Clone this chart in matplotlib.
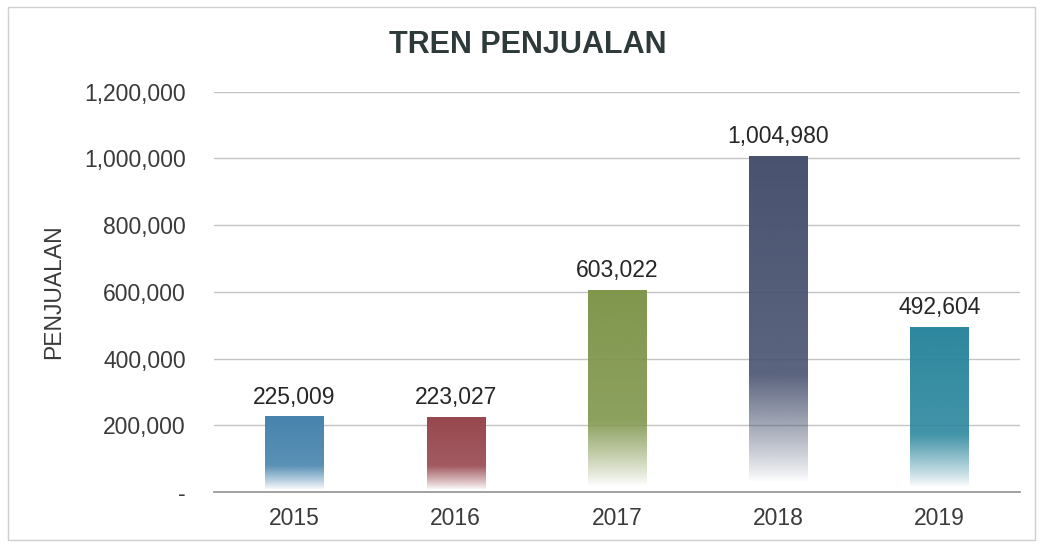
import numpy as np
import matplotlib.pyplot as plt
from matplotlib.colors import to_rgb
from matplotlib.patches import Rectangle
from matplotlib.ticker import FuncFormatter

years = ['2015', '2016', '2017', '2018', '2019']
sales = [225009, 223027, 603022, 1004980, 492604]
colors = ['#4683ad', '#97474e', '#80964c', '#48526f', '#2c879e']

plt.rcParams['font.family'] = ['Liberation Sans', 'DejaVu Sans']


def gradient_bar(ax, x, height, width, color):
    # dark at the top, lightening downwards and fading to white at the base
    n = 300
    t = np.linspace(0, 1, n)[:, None]          # 0 = bottom, 1 = top
    fade = np.clip((t - 0.03) / 0.32, 0, 1) ** 0.85
    alpha = fade * (0.84 + 0.16 * t)
    rgb = np.array(to_rgb(color))
    img = np.ones((n, 1, 4))
    img[:, :, :3] = rgb
    img[:, :, 3] = alpha
    ax.imshow(img, extent=(x - width / 2, x + width / 2, 0, height),
              origin='lower', aspect='auto', zorder=3, interpolation='bilinear')


fig = plt.figure(figsize=(10.42, 5.45), dpi=100)
ax = fig.add_axes([0.205, 0.097, 0.774, 0.735])

xs = np.arange(len(years))
width = 0.36
for x, v, c in zip(xs, sales, colors):
    gradient_bar(ax, x, v, width, c)
    ax.text(x, v + 25000, f'{v:,}', ha='center', va='bottom',
            fontsize=16.5, color='#262626', zorder=4)

ax.set_xlim(-0.5, len(years) - 0.5)
ax.set_ylim(0, 1200000)
ax.set_yticks(range(0, 1200001, 200000))
ax.yaxis.set_major_formatter(FuncFormatter(lambda v, p: '-' if v == 0 else f'{int(v):,}'))
ax.set_xticks(xs)
ax.set_xticklabels(years)
ax.tick_params(axis='both', length=0, labelsize=16.5, colors='#3a3a3a')
ax.tick_params(axis='y', pad=20)
ax.tick_params(axis='x', pad=11)

ax.grid(axis='y', color='#c4c4c4', linewidth=1.0, zorder=0)
ax.set_axisbelow(True)
for s in ['top', 'right', 'left']:
    ax.spines[s].set_visible(False)
ax.spines['bottom'].set_color('#9a9a9a')
ax.spines['bottom'].set_linewidth(1.3)

ax.set_ylabel('PENJUALAN', fontsize=16.5, color='#3a3a3a', labelpad=14)
fig.text(0.506, 0.918, 'TREN PENJUALAN', ha='center', va='center',
         fontsize=22, fontweight='bold', color='#2e3a3a')

# light frame around the chart area
fig.patches.append(Rectangle((0.008, 0.01), 0.985, 0.978, transform=fig.transFigure,
                             fill=False, edgecolor='#cfcfcf', linewidth=1.0))

fig.savefig('out.png', dpi=100, facecolor='white')
